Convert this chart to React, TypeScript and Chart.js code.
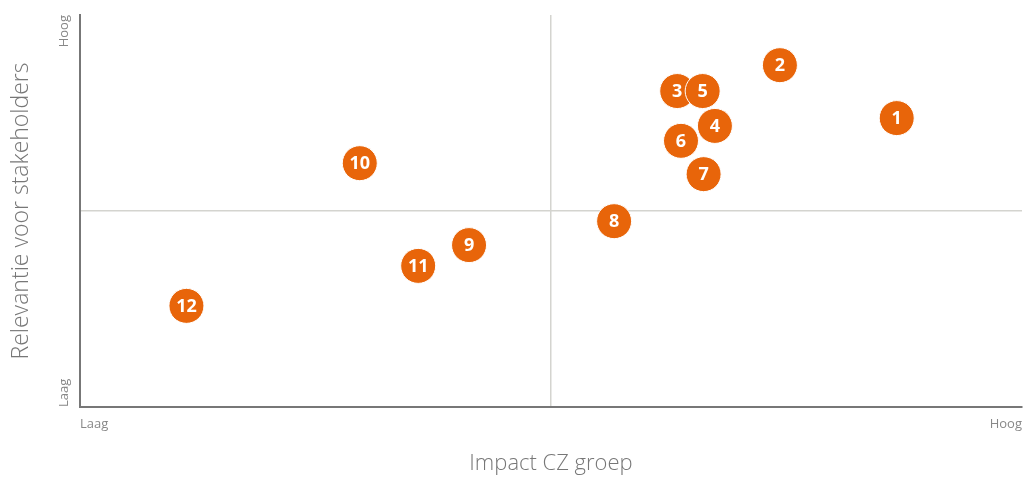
import React, { useEffect, useRef } from "react";
import { Chart, registerables } from "chart.js";

Chart.register(...registerables);

const topicLabels = ["1", "2", "3", "4", "5", "6", "7", "8", "9", "10", "11", "12"];
const impactValues = [86.7, 74.3, 63.4, 67.4, 66.1, 63.8, 66.2, 56.7, 41.3, 29.7, 35.9, 11.3];
const relevanceValues = [73.7, 87.2, 80.6, 71.7, 80.6, 67.9, 59.4, 47.4, 41.3, 62.2, 36.0, 25.8];
const axisTickLabels = ["Laag", "Hoog"];
const xTitle = "Impact CZ groep";
const yTitle = "Relevantie voor stakeholders";

const FONT = "'Open Sans', 'Noto Sans', sans-serif";
const ORANGE = "#E8650A";

const pointLabelPlugin = {
  id: "pointLabels",
  afterDatasetsDraw(chart: any) {
    const ctx = chart.ctx;
    const meta = chart.getDatasetMeta(0);
    ctx.save();
    ctx.fillStyle = "#ffffff";
    ctx.font = `bold 18px ${FONT}`;
    ctx.textAlign = "center";
    ctx.textBaseline = "middle";
    meta.data.forEach((el: any, i: number) => {
      ctx.fillText(topicLabels[i], el.x, el.y + 1);
    });
    ctx.restore();
  },
};

const yTickPlugin = {
  id: "yTicks",
  afterDraw(chart: any) {
    const ctx = chart.ctx;
    const ys = chart.scales.y;
    const x = ys.right - 16;
    ctx.save();
    ctx.fillStyle = "#888888";
    ctx.font = `13px ${FONT}`;
    ctx.textBaseline = "middle";
    ctx.save();
    ctx.translate(x, ys.getPixelForValue(0));
    ctx.rotate(-Math.PI / 2);
    ctx.textAlign = "left";
    ctx.fillText(axisTickLabels[0], 0, 0);
    ctx.restore();
    ctx.save();
    ctx.translate(x, ys.getPixelForValue(100));
    ctx.rotate(-Math.PI / 2);
    ctx.textAlign = "right";
    ctx.fillText(axisTickLabels[1], 0, 0);
    ctx.restore();
    ctx.restore();
  },
};

export default function App() {
  const ref = useRef<HTMLCanvasElement>(null);
  useEffect(() => {
    if (!ref.current) return;
    const data = impactValues.map((v, i) => ({ x: v, y: relevanceValues[i] }));
    const gridColor = (c: any) => (c.tick && c.tick.value === 50 ? "#d4d4cf" : "rgba(0,0,0,0)");
    const chart = new Chart(ref.current, {
      type: "scatter",
      data: {
        datasets: [
          {
            data,
            backgroundColor: ORANGE,
            borderColor: "#ffffff",
            borderWidth: 1,
            pointRadius: 17.5,
            pointHoverRadius: 17.5,
            clip: false,
          },
        ],
      },
      options: {
        animation: false,
        responsive: false,
        maintainAspectRatio: false,
        layout: { autoPadding: false, padding: { top: 15, right: 3, left: 0, bottom: 0 } },
        plugins: { legend: { display: false }, tooltip: { enabled: false } },
        scales: {
          x: {
            type: "linear",
            min: 0,
            max: 100,
            afterBuildTicks: (s: any) => {
              s.ticks = [{ value: 0 }, { value: 50 }, { value: 100 }];
            },
            afterFit: (s: any) => {
              s.height = 70;
              s.paddingLeft = 0;
              s.paddingRight = 0;
            },
            grid: { color: gridColor, drawTicks: false, lineWidth: 1.5 },
            border: { display: true, color: "#777777", width: 2 },
            ticks: {
              align: "inner",
              padding: 9,
              color: "#888888",
              font: { family: FONT, size: 13 },
              maxRotation: 0,
              callback: (v: any) => (v === 0 ? axisTickLabels[0] : v === 100 ? axisTickLabels[1] : ""),
            },
            title: {
              display: true,
              text: xTitle,
              color: "#777777",
              font: { family: FONT, size: 22, weight: "300" },
              padding: { top: 0, bottom: 0 },
            },
          },
          y: {
            type: "linear",
            min: 0,
            max: 100,
            afterBuildTicks: (s: any) => {
              s.ticks = [{ value: 0 }, { value: 50 }, { value: 100 }];
            },
            afterFit: (s: any) => {
              s.width = 80;
              s.paddingTop = 0;
              s.paddingBottom = 0;
            },
            grid: { color: gridColor, drawTicks: false, lineWidth: 1.5 },
            border: { display: true, color: "#777777", width: 2 },
            ticks: { display: false },
            title: {
              display: true,
              text: yTitle,
              color: "#777777",
              font: { family: FONT, size: 23, weight: "300" },
              padding: { top: 8, bottom: 0 },
            },
          },
        },
      },
      plugins: [pointLabelPlugin, yTickPlugin],
    } as any);
    return () => chart.destroy();
  }, []);
  return (
    <div style={{ position: "absolute", left: 0, top: 0, width: 1025, height: 477, background: "#fff" }}>
      <canvas ref={ref} width={1025} height={477} style={{ display: "block" }} />
    </div>
  );
}
